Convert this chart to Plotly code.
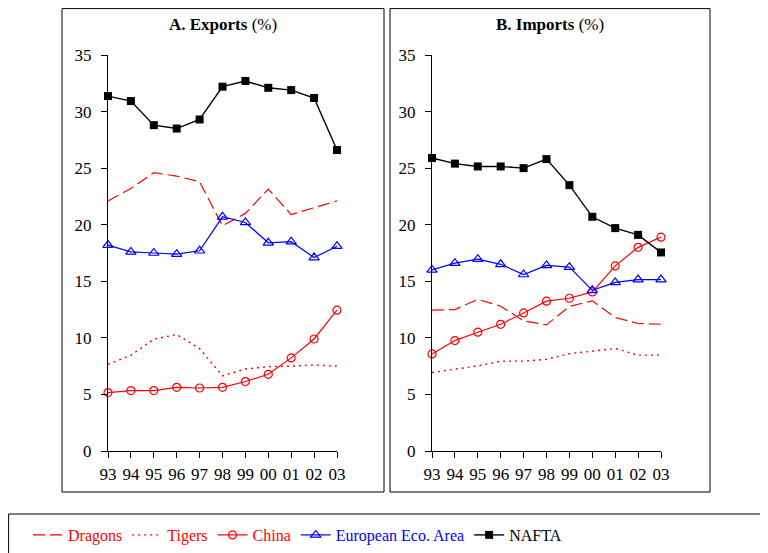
import plotly.graph_objects as go

OFF = 8  # page body margin offset
W, H = 768 - OFF, 553 - OFF
years = ["93", "94", "95", "96", "97", "98", "99", "00", "01", "02", "03"]

exp_dragons = [22.1, 23.2, 24.6, 24.3, 23.8, 19.9, 21.0, 23.15, 20.9, 21.5, 22.1]
exp_tigers = [7.67, 8.46, 9.88, 10.3, 9.05, 6.64, 7.25, 7.46, 7.5, 7.6, 7.5]
exp_china = [5.16, 5.34, 5.34, 5.63, 5.57, 5.63, 6.14, 6.78, 8.23, 9.9, 12.45]
exp_eea = [18.2, 17.6, 17.5, 17.4, 17.7, 20.7, 20.2, 18.4, 18.5, 17.1, 18.1]
exp_nafta = [31.37, 30.93, 28.8, 28.5, 29.3, 32.2, 32.7, 32.1, 31.9, 31.2, 26.6]

imp_dragons = [12.45, 12.5, 13.4, 12.8, 11.5, 11.15, 12.78, 13.27, 11.8, 11.27, 11.2]
imp_tigers = [6.94, 7.23, 7.52, 7.94, 7.94, 8.1, 8.6, 8.82, 9.06, 8.47, 8.47]
imp_china = [8.58, 9.76, 10.5, 11.2, 12.2, 13.24, 13.5, 14.06, 16.36, 18.0, 18.9]
imp_eea = [16.0, 16.6, 16.95, 16.5, 15.6, 16.4, 16.25, 14.2, 14.9, 15.15, 15.15]
imp_nafta = [25.9, 25.4, 25.15, 25.15, 25.0, 25.8, 23.5, 20.7, 19.7, 19.1, 17.55]

series_names = ["Dragons", "Tigers", "China", "European Eco. Area", "NAFTA"]
titles = ["<b>A. Exports</b> (%)", "<b>B. Imports</b> (%)"]
y_ticks = [0, 5, 10, 15, 20, 25, 30, 35]

RED, BLUE, BLACK = "#FF0000", "#0000FF", "#000000"
styles = [
    dict(line=dict(color=RED, width=1.2, dash="12px,5px"), mode="lines", marker=None),
    dict(line=dict(color=RED, width=1.4, dash="2px,4px"), mode="lines", marker=None),
    dict(line=dict(color=RED, width=1.2), mode="lines+markers",
         marker=dict(symbol="circle-open", size=8, color=RED, line=dict(width=1.2))),
    dict(line=dict(color=BLUE, width=1.2), mode="lines+markers",
         marker=dict(symbol="triangle-up-open", size=9, color=BLUE, line=dict(width=1.2))),
    dict(line=dict(color=BLACK, width=1.4), mode="lines+markers",
         marker=dict(symbol="square", size=8, color=BLACK)),
]
text_colors = [RED, RED, RED, BLUE, BLACK]

fig = go.Figure()
for panel, data in enumerate([
    [exp_dragons, exp_tigers, exp_china, exp_eea, exp_nafta],
    [imp_dragons, imp_tigers, imp_china, imp_eea, imp_nafta],
]):
    xa = "x" if panel == 0 else "x2"
    ya = "y" if panel == 0 else "y2"
    for i, vals in enumerate(data):
        st = styles[i]
        kw = dict(x=years, y=vals, mode=st["mode"], line=st["line"],
                  xaxis=xa, yaxis=ya, cliponaxis=False,
                  name=f'<span style="color:{text_colors[i]}">{series_names[i]}</span>',
                  legendgroup=series_names[i], showlegend=(panel == 0))
        if st["marker"] is not None:
            kw["marker"] = st["marker"]
        fig.add_trace(go.Scatter(**kw))

def px_x(p):
    return (p - OFF) / W

def px_y(p):
    return 1 - (p - OFF) / H

FONT = "Liberation Serif, Times New Roman, Times, serif"
axis_common = dict(showline=True, linecolor="black", linewidth=1, showgrid=False,
                   zeroline=False, ticks="outside", ticklen=6, tickcolor="black",
                   automargin=False,
                   tickfont=dict(family=FONT, size=17, color="black"))

fig.update_layout(
    template="none",
    width=W, height=H,
    margin=dict(l=0, r=0, t=0, b=0, pad=0),
    paper_bgcolor="white", plot_bgcolor="white",
    font=dict(family=FONT, color="black"),
    xaxis=dict(domain=[px_x(108), px_x(337)], anchor="y", type="category",
               range=[0, 10], ticklabelstandoff=2, **axis_common),
    yaxis=dict(domain=[px_y(451), px_y(55)], anchor="x", range=[0, 35],
               tickvals=y_ticks, ticklabelstandoff=6, **axis_common),
    xaxis2=dict(domain=[px_x(432), px_x(661)], anchor="y2", type="category",
                range=[0, 10], ticklabelstandoff=2, **axis_common),
    yaxis2=dict(domain=[px_y(451), px_y(55)], anchor="x2", range=[0, 35],
                tickvals=y_ticks, ticklabelstandoff=6, **axis_common),
    legend=dict(orientation="h", x=px_x(28), y=px_y(535), xanchor="left",
                yanchor="middle", font=dict(family=FONT, size=16),
                itemwidth=30, tracegroupgap=0, bgcolor="rgba(0,0,0,0)"),
    showlegend=True,
)

TOP = 8.6
shapes = [
    dict(type="rect", xref="paper", yref="paper", x0=px_x(62), x1=px_x(384),
         y0=px_y(492), y1=px_y(TOP), line=dict(color="black", width=1)),
    dict(type="rect", xref="paper", yref="paper", x0=px_x(390), x1=px_x(710),
         y0=px_y(492), y1=px_y(TOP), line=dict(color="black", width=1)),
    dict(type="line", xref="paper", yref="paper", x0=px_x(8.6), x1=1,
         y0=px_y(514), y1=px_y(514), line=dict(color="black", width=1)),
    dict(type="line", xref="paper", yref="paper", x0=px_x(8.6), x1=px_x(8.6),
         y0=px_y(514), y1=0, line=dict(color="black", width=1)),
]
fig.update_layout(shapes=shapes)

for t, cx in zip(titles, [223, 550]):
    fig.add_annotation(text=t, x=px_x(cx), y=px_y(24), xref="paper", yref="paper",
                       showarrow=False, xanchor="center", yanchor="middle",
                       font=dict(family=FONT, size=17, color="black"))

fig.write_html("out.html")
